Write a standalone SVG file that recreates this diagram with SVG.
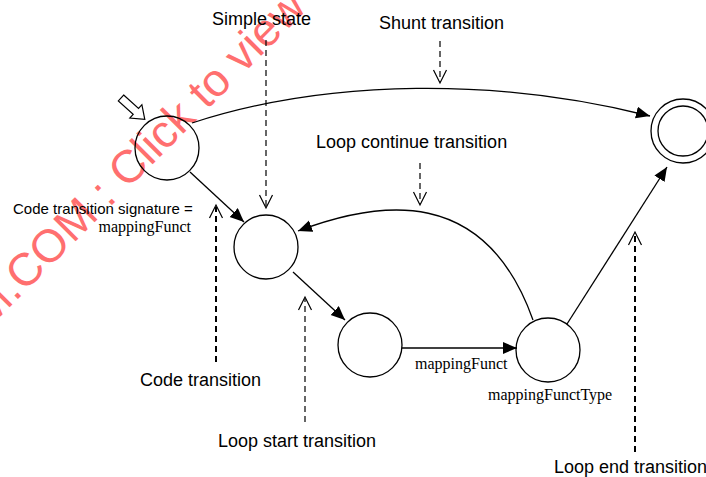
<svg xmlns="http://www.w3.org/2000/svg" width="706" height="477" viewBox="0 0 706 477">
<style>
.st{fill:none;stroke:#000;stroke-width:1.3}
.ed{fill:none;stroke:#000;stroke-width:1.3}
.co{fill:none;stroke:#000;stroke-width:1.2;stroke-dasharray:6,4}
.cob{fill:none;stroke:#000;stroke-width:2;stroke-dasharray:6,4}
.oh{fill:none;stroke:#000;stroke-width:1.2}
.lb{font-family:"Liberation Sans",Arial,sans-serif;font-size:18px;fill:#000}
.ls{font-family:"Liberation Sans",Arial,sans-serif;font-size:15px;fill:#000}
.sf{font-family:"Liberation Serif","Times New Roman",serif;font-size:16px;fill:#000}
.wm{font-family:"Liberation Sans",Arial,sans-serif;font-size:46px;fill:#ff6f6f}
</style>
<defs>
<marker id="ah" markerUnits="userSpaceOnUse" markerWidth="16" markerHeight="14" refX="14" refY="6" orient="auto">
<path d="M0,0 L14,6 L0,12 z" fill="#000"/>
</marker>
</defs>
<rect width="706" height="477" fill="#fff"/>
<text class="wm" transform="translate(-12,329) rotate(-45)">M.COM : Click to view</text>

<g id="connectors">
<path class="ed" d="M192,123 C330,78 500,78 650,116" marker-end="url(#ah)"/>
<path class="ed" d="M190,172 L244,222" marker-end="url(#ah)"/>
<path class="ed" d="M533,320 C485,185 380,200 298,231" marker-end="url(#ah)"/>
<path class="ed" d="M293,272 L345,320" marker-end="url(#ah)"/>
<path class="ed" d="M402,348 L517,348" marker-end="url(#ah)"/>
<path class="ed" d="M567,324 L667,167" marker-end="url(#ah)"/>
</g>

<g id="initial-marker">
<polygon points="0,-4 20,-4 20,-9 32,0 20,9 20,4 0,4" fill="#fff" stroke="#000" stroke-width="1.2" transform="translate(121,98) rotate(42)"/>
</g>
<g id="stateA"><circle class="st" cx="167" cy="148" r="32"/></g>
<g id="stateB"><circle class="st" cx="266" cy="247" r="32"/></g>
<g id="stateC"><circle class="st" cx="370" cy="345" r="32"/></g>
<g id="stateD"><circle class="st" cx="548" cy="350" r="32"/></g>
<g id="stateFinal">
<circle class="st" cx="683" cy="131" r="32"/>
<circle class="st" cx="683" cy="131" r="25"/>
</g>

<g id="callout-simple">
<text class="lb" x="212" y="25">Simple state</text>
<line class="co" x1="266" y1="40" x2="266" y2="207"/>
<path class="oh" d="M259.5,195 L266,208 L272.5,195"/>
</g>
<g id="callout-shunt">
<text class="lb" x="379" y="29">Shunt transition</text>
<line class="co" x1="440" y1="41" x2="440" y2="82"/>
<path class="oh" d="M433.5,70 L440,83 L446.5,70"/>
</g>
<g id="callout-loopcontinue">
<text class="lb" x="316" y="148">Loop continue transition</text>
<line class="co" x1="420" y1="163" x2="420" y2="204"/>
<path class="oh" d="M413.5,192 L420,205 L426.5,192"/>
</g>
<g id="callout-code">
<text class="ls" x="13" y="214">Code transition signature =</text>
<text class="sf" x="191" y="232" text-anchor="end">mappingFunct</text>
<line class="cob" x1="216" y1="362" x2="216" y2="207"/>
<path class="oh" d="M209.5,218 L216,205 L222.5,218"/>
<text class="lb" x="140" y="386">Code transition</text>
</g>
<g id="callout-loopstart">
<line class="co" x1="305" y1="422" x2="305" y2="299"/>
<path class="oh" d="M298.5,310 L305,297 L311.5,310"/>
<text class="lb" x="218" y="447">Loop start transition</text>
</g>
<g id="callout-loopend">
<line class="cob" x1="635" y1="452" x2="635" y2="234"/>
<path class="oh" d="M628.5,245 L635,232 L641.5,245"/>
<text class="lb" x="554" y="473">Loop end transition</text>
</g>
<g id="edge-labels">
<text class="sf" x="415" y="369">mappingFunct</text>
<text class="sf" x="488" y="400">mappingFunctType</text>
</g>
</svg>
